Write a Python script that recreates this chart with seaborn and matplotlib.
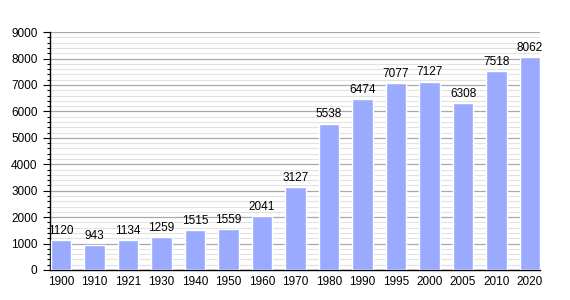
import matplotlib
matplotlib.use("Agg")
import matplotlib.pyplot as plt
import seaborn as sns
import pandas as pd
from matplotlib.ticker import MultipleLocator

years = ["1900", "1910", "1921", "1930", "1940", "1950", "1960", "1970",
         "1980", "1990", "1995", "2000", "2005", "2010", "2020"]
population = [1120, 943, 1134, 1259, 1515, 1559, 2041, 3127,
              5538, 6474, 7077, 7127, 6308, 7518, 8062]

df = pd.DataFrame({"year": years, "pop": population})

sns.set_style("white")
plt.rcParams['font.family'] = ['Liberation Sans', 'DejaVu Sans']
plt.rcParams['text.color'] = 'black'
plt.rcParams['xtick.color'] = 'black'
plt.rcParams['ytick.color'] = 'black'

fig = plt.figure(figsize=(5.7, 3.0), dpi=100)
ax = fig.add_axes([0.0877, 0.1, 0.86, 0.793])

bw = 0.61
sns.barplot(data=df, x="year", y="pop", color="#99aaff", saturation=1,
            width=bw, ax=ax, zorder=3)

ax.set_ylim(0, 9000)
ax.set_xlim(-bw / 2 - 0.03, len(years) - 1 + bw / 2)
ax.yaxis.set_major_locator(MultipleLocator(1000))
ax.yaxis.set_minor_locator(MultipleLocator(200))
ax.grid(axis="y", which="major", color="#a8a8a8", linewidth=0.9, zorder=0)
ax.grid(axis="y", which="minor", color="#e2e2e2", linewidth=0.8, zorder=0)
ax.set_axisbelow(True)

for s in ["top", "right"]:
    ax.spines[s].set_visible(False)
ax.spines["left"].set_color("black")
ax.spines["bottom"].set_color("black")
ax.spines["left"].set_linewidth(1.0)
ax.spines["bottom"].set_linewidth(1.0)

ax.tick_params(axis="y", which="major", direction="out", length=5, width=0.8,
               labelsize=8.5, pad=4, left=True, colors="black")
ax.tick_params(axis="y", which="minor", direction="out", length=2.5, width=0.8,
               left=True, colors="black")
ax.tick_params(axis="x", length=0, labelsize=8.5, pad=4, colors="black")

ax.set_xlabel("")
ax.set_ylabel("")

for i, v in enumerate(population):
    ax.text(i, v + 120, str(v), ha="center", va="bottom", fontsize=8.5,
            color="black", zorder=4)

fig.savefig("out.png", dpi=100)
